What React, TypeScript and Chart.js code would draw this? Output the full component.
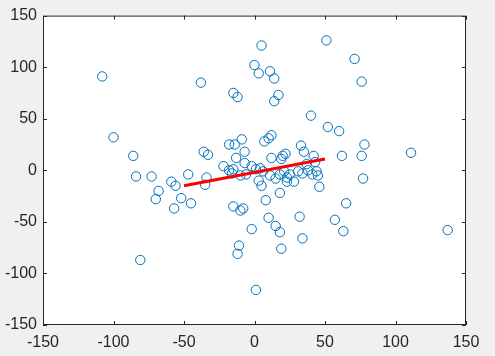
import React, { useEffect, useRef } from "react";
import { Chart, registerables } from "chart.js";

Chart.register(...registerables);

const scatterX = [
  -108, -100, -86, -84, -73, -68, -70, -81,
  -59, -56, -52, -57, -45, -47, -38, -36,
  -33, -34, -35, -15, -12, -15, -10, -8,
  -11, -12, -2, 1, 5, 51, 71, 76,
  0, 3, 11, 14, 17, 14, 40, 52,
  60, 78, 76, 62, 111, 77, 46, 65,
  57, 63, 137, 32, 34, 18, 19, 15,
  10, 8, 18, 5, -18, -14, -9,
  7, 10, 12, 33, 35, 42, -7, -13,
  12, 20, 22, 19, -7, -22, 43, 37,
  -18, -15, -16, -10, -2, 1, 4, 6,
  -6, 3, 11, 15, 18, 21, 23, 25,
  23, 28, 31, 34, 38, 41, 44, 45,
];
const scatterY = [
  91, 32, 14, -6, -6, -20, -28, -87,
  -11, -15, -27, -37, -32, -4, 85, 18,
  15, -7, -14, 75, 71, -35, -39, -37,
  -73, -81, -57, -116, 121, 126, 108, 86,
  102, 94, 96, 89, 73, 67, 53, 42,
  38, 25, 14, 14, 17, -8, -16, -32,
  -48, -59, -58, -45, -66, -60, -76, -54,
  -46, -29, -22, -15, 25, 25, 30,
  28, 31, 34, 24, 18, 14, 18, 12,
  12, 14, 16, 11, 7, 4, 8, 6,
  0, 1, -3, -5, 4, 1, 2, -1,
  -4, -10, -5, -8, -4, -1, -7, -4,
  -11, -11, -1, -3, 0, -4, -1, -5,
];
const fitX = [-50, 50];
const fitY = [-15, 11];
const tickValues = [-150, -100, -50, 0, 50, 100, 150];

const framePlugin = {
  id: "matlabFrame",
  beforeDraw(chart: any) {
    const { ctx, chartArea: a } = chart;
    ctx.save();
    ctx.fillStyle = "#F0F0F0";
    ctx.fillRect(0, 0, chart.width, chart.height);
    ctx.fillStyle = "#FFFFFF";
    ctx.fillRect(a.left, a.top, a.right - a.left, a.bottom - a.top);
    ctx.restore();
  },
  afterDraw(chart: any) {
    const { ctx, chartArea: a, scales } = chart;
    ctx.save();
    ctx.strokeStyle = "#262626";
    ctx.lineWidth = 1;
    ctx.beginPath();
    ctx.rect(a.left + 0.5, a.top + 0.5, a.right - a.left - 1, a.bottom - a.top - 1);
    ctx.stroke();
    const len = 4;
    ctx.beginPath();
    for (const v of tickValues) {
      const px = Math.round(scales.x.getPixelForValue(v)) + 0.5;
      ctx.moveTo(px, a.bottom);
      ctx.lineTo(px, a.bottom - len);
      ctx.moveTo(px, a.top);
      ctx.lineTo(px, a.top + len);
      const py = Math.round(scales.y.getPixelForValue(v)) + 0.5;
      ctx.moveTo(a.left, py);
      ctx.lineTo(a.left + len, py);
      ctx.moveTo(a.right, py);
      ctx.lineTo(a.right - len, py);
    }
    ctx.stroke();
    ctx.restore();
  },
};

export default function App() {
  const ref = useRef<HTMLCanvasElement | null>(null);
  useEffect(() => {
    if (!ref.current) return;
    const font = { family: "'Liberation Sans', Arial, sans-serif", size: 16 };
    const chart = new Chart(ref.current, {
      type: "scatter",
      data: {
        datasets: [
          {
            type: "line",
            data: fitX.map((x, i) => ({ x, y: fitY[i] })),
            borderColor: "#FF0000",
            borderWidth: 3,
            pointRadius: 0,
            showLine: true,
            fill: false,
            order: 0,
          } as any,
          {
            data: scatterX.map((x, i) => ({ x, y: scatterY[i] })),
            borderColor: "#0072BD",
            backgroundColor: "rgba(0,0,0,0)",
            borderWidth: 1,
            pointRadius: 4.7,
            order: 1,
          },
        ],
      },
      options: {
        responsive: false,
        animation: false,
        layout: { padding: { top: 11, right: 29, left: 0, bottom: 0 } },
        plugins: { legend: { display: false }, tooltip: { enabled: false } },
        scales: {
          x: {
            type: "linear",
            min: -150,
            max: 150,
            border: { display: false },
            grid: { display: false, drawTicks: false },
            afterBuildTicks: (s: any) => {
              s.ticks = tickValues.map((v) => ({ value: v }));
            },
            afterFit: (s: any) => {
              s.height = 31;
            },
            ticks: { color: "#262626", font, padding: 8, maxRotation: 0 },
          },
          y: {
            type: "linear",
            min: -150,
            max: 150,
            border: { display: false },
            grid: { display: false, drawTicks: false },
            afterBuildTicks: (s: any) => {
              s.ticks = tickValues.map((v) => ({ value: v }));
            },
            afterFit: (s: any) => {
              s.width = 43;
            },
            ticks: { color: "#262626", font, padding: 6 },
          },
        },
      },
      plugins: [framePlugin],
    });
    return () => chart.destroy();
  }, []);
  return (
    <div style={{ position: "fixed", left: 0, top: 0, width: 495, height: 356, background: "#F0F0F0" }}>
      <canvas ref={ref} width={495} height={356} />
    </div>
  );
}
